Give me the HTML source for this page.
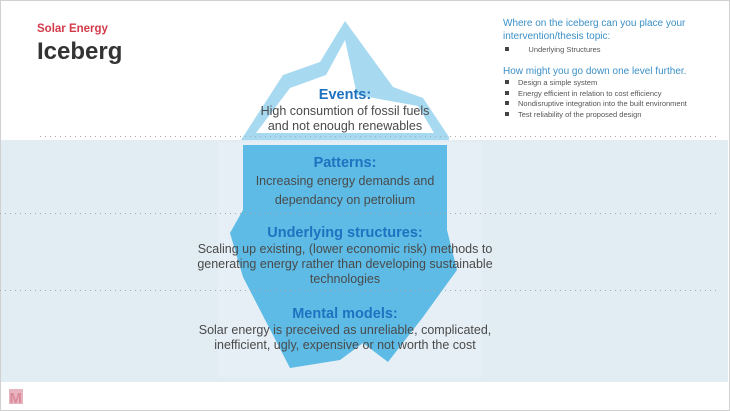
<!DOCTYPE html>
<html><head><meta charset="utf-8"><style>
html,body{margin:0;padding:0;}
body{width:730px;height:411px;position:relative;overflow:hidden;background:#fff;font-family:"Liberation Sans",sans-serif;}
.frame{position:absolute;left:0;top:0;width:728px;height:409px;border:1px solid #d0d0d0;}
.water{position:absolute;left:1px;top:140px;width:727px;height:242px;background:#e1ecf3;}
.t{position:absolute;text-align:center;left:195px;width:300px;color:#4a4a4a;font-size:12.5px;line-height:15px;}
.h{color:#1f72c0;font-weight:bold;font-size:14.5px;line-height:17px;}
.r{position:absolute;left:503px;color:#3b8fc6;font-size:10px;line-height:13px;}
.b{position:absolute;left:505px;font-size:7.5px;color:#555;line-height:10.5px;}
.b div:before{content:"";display:inline-block;width:4px;height:4px;background:#444;margin-right:9px;vertical-align:1px;}
</style></head><body>
<div class="frame"></div>
<div class="water"></div>
<svg width="730" height="411" style="position:absolute;left:0;top:0">
<rect x="218" y="142" width="264" height="235" fill="#e6eff5"/>
<polygon points="241,140 283,75 320,62 345,21 393,87 423,98 449,137 449,140" fill="#a7d9f1"/>
<polygon points="256,133 290,88 326,75 345,40 357,95 418,106 434,133" fill="#fff"/>
<polygon points="243,145 447,145 447,230 457,270 423,317 388,362 363,343 340,360 290,368 260,310 243,277 230,233 243,210" fill="#5dbbe5"/>
<g stroke="#aaa" stroke-width="1" stroke-dasharray="1,4">
<line x1="40" y1="136.5" x2="718" y2="136.5"/>
<line x1="0" y1="213.5" x2="718" y2="213.5"/>
<line x1="0" y1="290.5" x2="718" y2="290.5"/>
</g>
<rect x="9" y="389" width="14" height="15" fill="#e8b4bf"/>
<text x="9.5" y="403" font-family="Liberation Sans" font-weight="bold" font-size="15" fill="#d98a9b">M</text>
</svg>
<div style="position:absolute;left:37px;top:23px;color:#d33b4a;font-weight:bold;font-size:11.5px;">Solar Energy</div>
<div style="position:absolute;left:37px;top:38px;color:#333;font-weight:bold;font-size:24px;">Iceberg</div>
<div class="t" style="top:87px"><div class="h">Events:</div>High consumtion of fossil fuels<br>and not enough renewables</div>
<div class="t" style="top:155px"><div class="h">Patterns:</div><div style="line-height:19px">Increasing energy demands and<br>dependancy on petrolium</div></div>
<div class="t" style="top:225px;left:180px;width:330px"><div class="h">Underlying structures:</div>Scaling up existing, (lower economic risk) methods to<br>generating energy rather than developing sustainable<br>technologies</div>
<div class="t" style="top:306px;left:180px;width:330px"><div class="h">Mental models:</div>Solar energy is preceived as unreliable, complicated,<br>inefficient, ugly, expensive or not worth the cost</div>
<div class="r" style="top:17px">Where on the iceberg can you place your<br>intervention/thesis topic:</div>
<div class="b" style="top:45px"><div>&nbsp;&nbsp;&nbsp;&nbsp;&nbsp;Underlying Structures</div></div>
<div class="r" style="top:65px">How might you go down one level further.</div>
<div class="b" style="top:78px"><div>Design a simple system</div><div>Energy efficient in relation to cost efficiency</div><div>Nondisruptive integration into the built environment</div><div>Test reliability of the proposed design</div></div>
</body></html>
